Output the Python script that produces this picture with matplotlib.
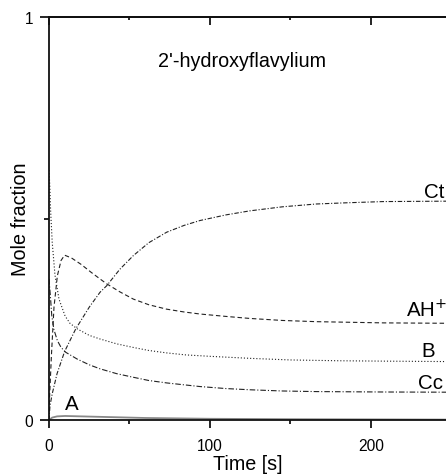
import matplotlib
matplotlib.use("Agg")
import matplotlib.pyplot as plt
from matplotlib.ticker import FixedLocator

plt.rcParams['font.family'] = ['Liberation Sans', 'DejaVu Sans']

# ---- data ----
t_AH = [0, 0.5, 1.5, 3.1, 5.2, 7.5, 9.7, 14, 20, 26, 31.7, 35.8, 44, 52.4, 62, 73.1, 84, 93.8, 110, 124.8, 145, 166, 207.6, 247]
v_AH = [0.02, 0.07, 0.16, 0.28, 0.358, 0.396, 0.409, 0.402, 0.386, 0.367, 0.35, 0.338, 0.318, 0.300, 0.286, 0.275, 0.268, 0.263, 0.257, 0.252, 0.247, 0.244, 0.241, 0.240]

t_B = [0, 0.5, 1, 2, 3.7, 6.2, 10, 13, 17.6, 25, 31.7, 42, 52.4, 62, 73.1, 85, 100, 124.8, 150, 180, 210, 247]
v_B = [0.62, 0.58, 0.52, 0.441, 0.36, 0.30, 0.258, 0.240, 0.226, 0.210, 0.201, 0.189, 0.180, 0.1725, 0.1665, 0.1615, 0.158, 0.153, 0.149, 0.147, 0.146, 0.145]

t_Cc = [0, 0.5, 1, 1.7, 3, 5.2, 7.5, 10.4, 17.6, 25, 31.7, 42, 52.4, 62, 73.1, 93.8, 110, 124.8, 145, 166, 207.6, 247]
v_Cc = [0.35, 0.325, 0.30, 0.26, 0.225, 0.197, 0.180, 0.168, 0.151, 0.137, 0.127, 0.115, 0.106, 0.098, 0.092, 0.083, 0.078, 0.075, 0.072, 0.0705, 0.0695, 0.069]

t_Ct = [0, 0.6, 2, 5, 9.7, 16.6, 25, 31.7, 35.8, 44, 52.4, 62, 73.1, 84, 93.8, 110, 124.8, 145, 166, 185, 207.6, 247]
v_Ct = [0.0, 0.035, 0.065, 0.115, 0.17, 0.226, 0.28, 0.317, 0.333, 0.374, 0.408, 0.440, 0.466, 0.483, 0.495, 0.509, 0.519, 0.529, 0.536, 0.539, 0.542, 0.543]

t_A = [0, 2, 5, 10, 20, 40, 60, 100, 150, 200, 247]
v_A = [0.0, 0.006, 0.009, 0.010, 0.009, 0.007, 0.005, 0.003, 0.002, 0.0015, 0.001]

x_major = [0, 100, 200]
x_minor = [50, 150]
y_major = [0, 1]
y_minor = [0.5]

title_text = "2'-hydroxyflavylium"
labels = {"Ct": (245.3, 0.566), "AH$^{+}$": (247.5, 0.275), "B": (240.0, 0.172),
          "Cc": (245.0, 0.094), "A": (14.0, 0.042)}

# ---- figure ----
fig = plt.figure(figsize=(4.46, 4.77), dpi=100)
ax = fig.add_axes([49/446, 1-421/477, 1-49/446, (421-18)/477])

lc = '#222222'
lw = 0.8
ax.plot(t_A, v_A, color='#888888', lw=1.3, solid_capstyle='butt')
ax.plot(t_AH, v_AH, color=lc, lw=lw, linestyle=(0, (4, 2.5)))
ax.plot(t_B, v_B, color=lc, lw=lw, linestyle=(0, (1, 1.8)))
ax.plot(t_Cc, v_Cc, color=lc, lw=lw, linestyle=(0, (5, 1.8, 1, 1.8)))
ax.plot(t_Ct, v_Ct, color=lc, lw=lw, linestyle=(0, (4, 1.6, 1, 1.6)))

ax.set_xlim(0, 246.6)
ax.set_ylim(0, 1)

ax.spines['right'].set_visible(False)
for s in ['left', 'bottom', 'top']:
    ax.spines[s].set_linewidth(1.3)
    ax.spines[s].set_color('#111111')

ax.xaxis.set_major_locator(FixedLocator(x_major))
ax.xaxis.set_minor_locator(FixedLocator(x_minor))
ax.yaxis.set_major_locator(FixedLocator(y_major))
ax.yaxis.set_minor_locator(FixedLocator(y_minor))
ax.set_yticklabels(['0', '1'])

ax.tick_params(axis='x', which='major', direction='out', length=6, width=1.2, labelsize=11.2, pad=7)
ax.tick_params(axis='x', which='minor', direction='out', length=3, width=1.2)
ax.tick_params(axis='y', which='major', direction='out', length=6.5, width=1.2, labelsize=11.2, pad=5)
ax.tick_params(axis='y', which='minor', direction='out', length=3.5, width=1.2)
ax.tick_params(right=False, top=False, which='both')

sec = ax.secondary_xaxis('top')
sec.xaxis.set_major_locator(FixedLocator(x_major))
sec.xaxis.set_minor_locator(FixedLocator(x_minor))
sec.tick_params(axis='x', which='major', direction='in', length=5.5, width=1.2, labeltop=False)
sec.tick_params(axis='x', which='minor', direction='in', length=2, width=1.2)
sec.spines['top'].set_linewidth(1.3)
sec.set_xticklabels([])

ax.set_xlabel('Time [s]', fontsize=14.2, labelpad=1)
ax.set_ylabel('Mole fraction', fontsize=14.2, labelpad=-4)

ax.text(120, 0.891, title_text, fontsize=14.2, ha='center', va='center')
for txt, (x, y) in labels.items():
    ha = 'center' if txt in ('A',) else 'right'
    ax.text(x, y, txt, fontsize=14.8, ha=ha, va='center', clip_on=False)

fig.savefig('out.png', dpi=100)
